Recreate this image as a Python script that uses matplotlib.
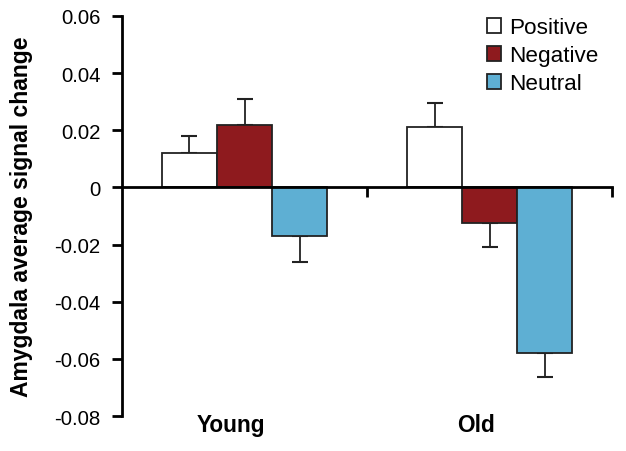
import numpy as np
import matplotlib
matplotlib.use('Agg')
import matplotlib.pyplot as plt
import matplotlib.transforms as mtransforms

plt.rcParams['font.family'] = ['Liberation Sans', 'DejaVu Sans']

groups = ['Young', 'Old']
conditions = ['Positive', 'Negative', 'Neutral']
means = {
    'Positive': [0.012, 0.021],
    'Negative': [0.022, -0.0125],
    'Neutral': [-0.017, -0.058],
}
errs = {
    'Positive': [0.006, 0.0087],
    'Negative': [0.009, 0.0085],
    'Neutral': [0.009, 0.0085],
}
colors = {'Positive': 'white', 'Negative': '#8E1A1E', 'Neutral': '#5EAFD3'}
yticks = [0.06, 0.04, 0.02, 0, -0.02, -0.04, -0.06, -0.08]
ytick_labels = ['0.06', '0.04', '0.02', '0', '-0.02', '-0.04', '-0.06', '-0.08']

fig = plt.figure(figsize=(6.26, 4.52), dpi=100)
ax = fig.add_axes([0.195, 0.0774, 0.783, 0.885])

x = np.arange(len(groups))
w = 0.225
for i, c in enumerate(conditions):
    pos = x + (i - 1) * w
    vals = np.array(means[c])
    e = np.array(errs[c])
    lower = np.where(vals < 0, e, 0)
    upper = np.where(vals >= 0, e, 0)
    ax.bar(pos, vals, w, color=colors[c], edgecolor='#222222', linewidth=1.3,
           label=c, zorder=2)
    ax.errorbar(pos, vals, yerr=[lower, upper], fmt='none', ecolor='#222222',
                elinewidth=1.3, capsize=5.5, capthick=1.5, zorder=1)

ax.set_xlim(-0.5, 1.5)
ax.set_ylim(-0.08, 0.06)
ax.set_yticks(yticks)
ax.set_yticklabels(ytick_labels, fontsize=14.7)
ax.set_xticks([0.5, 1.5])
ax.set_xticklabels([])

for s in ['top', 'right']:
    ax.spines[s].set_visible(False)
ax.spines['left'].set_linewidth(2)
ax.spines['bottom'].set_linewidth(2)
ax.spines['bottom'].set_position(('data', 0))
ax.spines['bottom'].set_zorder(3)
ax.tick_params(axis='y', direction='out', length=7, width=2, pad=8.5)
ax.tick_params(axis='x', direction='out', length=7, width=2)

# group names sit a little left of the group centres in the original
trans = mtransforms.blended_transform_factory(ax.transData, ax.transAxes)
shift = mtransforms.ScaledTranslation(-14 / 100, 0, fig.dpi_scale_trans)
for xi, g in zip(x, groups):
    ax.text(xi, -0.022, g, transform=trans + shift, ha='center', va='center',
            fontsize=16.3, fontweight='bold')

ax.set_ylabel('Amygdala average signal change', fontsize=16.5, fontweight='bold')
ax.yaxis.set_label_coords(-0.182, 0.5)

leg = ax.legend(loc='upper right', bbox_to_anchor=(1.0, 1.03), frameon=False,
                fontsize=16.2, handlelength=0.65, handleheight=0.65,
                handletextpad=0.35, labelspacing=0.31, borderaxespad=0.2)

fig.savefig('out.png', dpi=100)
